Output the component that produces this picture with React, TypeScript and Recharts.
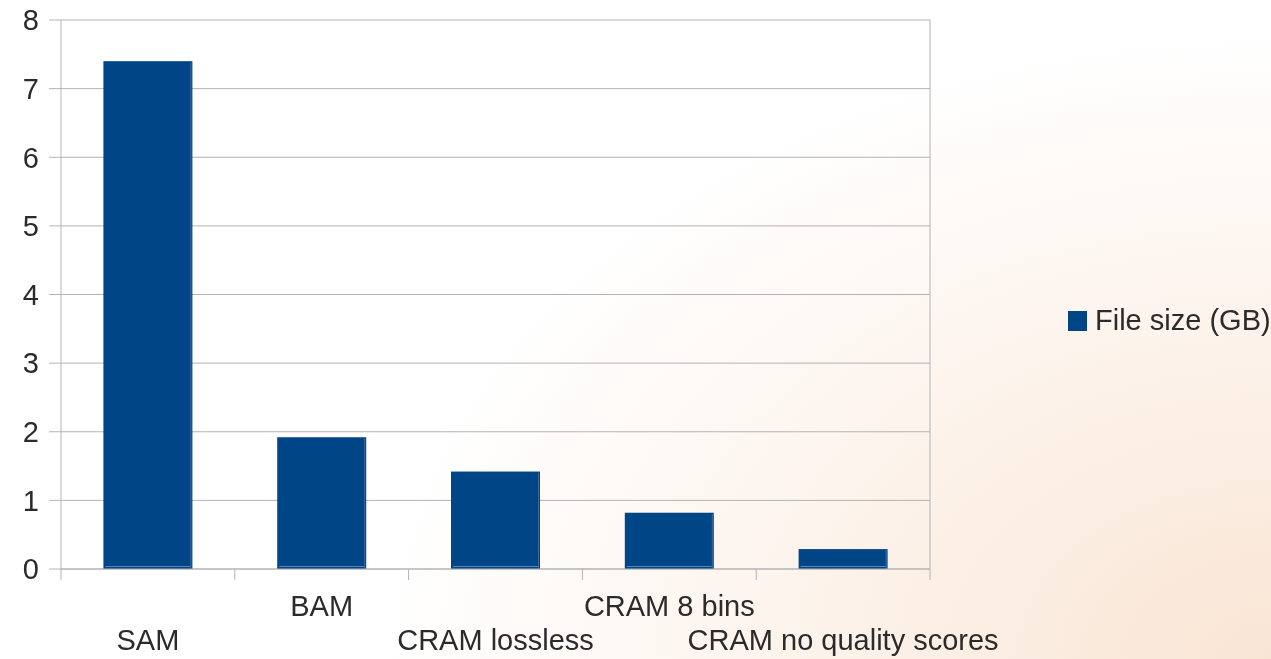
import React from 'react';
import { BarChart, Bar, XAxis, YAxis, CartesianGrid } from 'recharts';

const formats = ['SAM', 'BAM', 'CRAM lossless', 'CRAM 8 bins', 'CRAM no quality scores'];
const fileSizes = [7.4, 1.92, 1.42, 0.82, 0.29];
const yTicks = [0, 1, 2, 3, 4, 5, 6, 7, 8];

const data = formats.map((name, i) => ({ name, size: fileSizes[i] }));

const FONT = '"Liberation Sans", Arial, sans-serif';
const TEXT = '#2b2b2b';
const GRID = '#b3b3b3';
const BLUE = '#004586';

// category labels alternate between two rows, tick marks sit on the band edges
const XTick = (props: any) => {
    const { x, y, payload, index, width, visibleTicksCount } = props;
    const band = width && visibleTicksCount ? width / visibleTicksCount : 174;
    const row = index % 2 === 0 ? 81 : 47;
    return (
        <g>
            <line x1={x - band / 2} y1={y} x2={x - band / 2} y2={y + 11} stroke={GRID} />
            {index === visibleTicksCount - 1 && (
                <line x1={x + band / 2} y1={y} x2={x + band / 2} y2={y + 11} stroke={GRID} />
            )}
            <text x={x} y={y + row} textAnchor="middle" fill={TEXT} fontSize={29} fontFamily={FONT}>
                {payload.value}
            </text>
        </g>
    );
};

const BevelBar = (props: any) => {
    const { x, y, width, height } = props;
    if (!height) return null;
    return (
        <g>
            <rect x={x} y={y} width={width} height={height} fill={BLUE} />
            <line x1={x + 2} y1={y + height - 2.5} x2={x + width - 2} y2={y + height - 2.5} stroke="#5a84b5" strokeWidth={1} />
            <line x1={x + width - 1.5} y1={y + 1} x2={x + width - 1.5} y2={y + height} stroke="#3a6aa3" strokeWidth={1} />
        </g>
    );
};

export default function App() {
    return (
        <div
            style={{
                position: 'fixed',
                top: 0,
                left: 0,
                width: 1271,
                height: 659,
                background: 'radial-gradient(ellipse 70% 95% at 100% 100%, #f9e5d4 0%, #fcf1e8 45%, #ffffff 100%)',
            }}
        >
            <BarChart
                width={1271}
                height={659}
                data={data}
                margin={{ top: 20, right: 341, left: 0, bottom: 0 }}
                barCategoryGap="24.4%"
            >
                <CartesianGrid
                    stroke={GRID}
                    verticalCoordinatesGenerator={({ offset }: any) => [offset.left + offset.width]}
                />
                <XAxis
                    dataKey="name"
                    interval={0}
                    height={90}
                    axisLine={{ stroke: GRID }}
                    tickLine={false}
                    tickSize={0}
                    tickMargin={0}
                    tick={<XTick />}
                />
                <YAxis
                    width={61}
                    domain={[0, 8]}
                    ticks={yTicks}
                    axisLine={{ stroke: GRID }}
                    tickLine={{ stroke: GRID }}
                    tickSize={12}
                    tickMargin={10}
                    tick={{ fill: TEXT, fontSize: 29, fontFamily: FONT }}
                />
                <Bar dataKey="size" name="File size (GB)" fill={BLUE} shape={<BevelBar />} isAnimationActive={false} />
            </BarChart>
            <div
                style={{
                    position: 'absolute',
                    left: 1068,
                    top: 304,
                    display: 'flex',
                    alignItems: 'center',
                    fontFamily: FONT,
                    fontSize: 29,
                    color: TEXT,
                    whiteSpace: 'nowrap',
                }}
            >
                <span style={{ display: 'inline-block', width: 19, height: 20, background: BLUE, marginRight: 8 }} />
                <span>File size (GB)</span>
            </div>
        </div>
    );
}
